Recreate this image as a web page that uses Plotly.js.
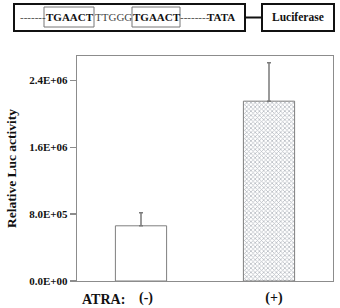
<!DOCTYPE html>
<html>
<head>
<meta charset="utf-8">
<script src="https://cdn.plot.ly/plotly-3.0.1.min.js"></script>
<style>
  html, body { margin: 0; padding: 0; background: #fff; }
  #chart { width: 340px; height: 308px; }
</style>
</head>
<body>
<div id="chart"></div>
<script>
// Luciferase reporter activity with and without ATRA
const conditions = ['(-)', '(+)'];
const lucActivity = [660000, 2150000];
const lucError = [155000, 460000];
const yTickVals = [0, 800000, 1600000, 2400000];
const yTickText = ['0.0E+00', '8.0E+05', '1.6E+06', '2.4E+06'];

// plot area geometry in pixels, used to place the construct diagram
const W = 340, H = 308, L = 77, R = 7, T = 56, B = 27;
const pw = W - L - R, ph = H - T - B;
const px = x => (x - L) / pw;
const py = y => (H - B - y) / ph;

const serif = 'Liberation Serif';
const axisGray = '#8c8c8c';

const trace = {
  type: 'bar',
  x: [0, 1],
  y: lucActivity,
  width: 0.4,
  marker: {
    color: ['#ffffff', '#b8bcc3'],
    line: { color: '#7f7f7f', width: 1 },
    pattern: {
      shape: ['', 'x'],
      size: 3,
      solidity: 0.45,
      fgcolor: '#969aa2',
      bgcolor: ['#ffffff', '#c6c9ce'],
      fillmode: 'replace'
    }
  },
  error_y: {
    type: 'data',
    array: lucError,
    symmetric: false,
    arrayminus: [0, 0],
    color: '#7a7a7a',
    thickness: 1.5,
    width: 2
  },
  hoverinfo: 'skip'
};

// construct diagram: promoter box, connector and luciferase box
const shapes = [
  { type: 'rect', xref: 'paper', yref: 'paper', x0: px(14), x1: px(245), y0: py(31), y1: py(4),
    line: { color: '#111', width: 2 } },
  { type: 'rect', xref: 'paper', yref: 'paper', x0: px(262), x1: px(334), y0: py(31), y1: py(4),
    line: { color: '#111', width: 2 } },
  { type: 'line', xref: 'paper', yref: 'paper', x0: px(245), x1: px(262), y0: py(17.5), y1: py(17.5),
    line: { color: '#111', width: 2 } },
  { type: 'rect', xref: 'paper', yref: 'paper', x0: px(44), x1: px(94), y0: py(27), y1: py(7),
    line: { color: '#777', width: 1 } },
  { type: 'rect', xref: 'paper', yref: 'paper', x0: px(132), x1: px(180), y0: py(27), y1: py(7),
    line: { color: '#777', width: 1 } }
];

const seqPieces = [
  { text: '-------', x: 20, bold: false },
  { text: 'TGAACT', x: 45.5, bold: true },
  { text: 'TTGGG', x: 94.5, bold: false },
  { text: 'TGAACT', x: 133, bold: true },
  { text: '--------', x: 180, bold: false },
  { text: 'TATA', x: 207, bold: true }
];

const annotations = seqPieces.map(p => ({
  xref: 'paper', yref: 'paper', x: px(p.x), y: py(17.5),
  xanchor: 'left', yanchor: 'middle', showarrow: false,
  text: p.text, borderpad: 0, borderwidth: 0,
  font: { family: serif, size: 11, color: p.bold ? '#111' : '#444', weight: p.bold ? 'bold' : 'normal' }
}));

annotations.push({
  xref: 'paper', yref: 'paper', x: px(298), y: py(17.5),
  xanchor: 'center', yanchor: 'middle', showarrow: false,
  text: 'Luciferase', borderpad: 0, borderwidth: 0,
  font: { family: serif, size: 11.5, color: '#111', weight: 'bold' }
});

annotations.push({
  xref: 'paper', yref: 'paper', x: px(82), y: py(299),
  xanchor: 'left', yanchor: 'middle', showarrow: false,
  text: 'ATRA:', borderpad: 0, borderwidth: 0,
  font: { family: serif, size: 14, color: '#111', weight: 'bold' }
});

const layout = {
  width: W, height: H,
  margin: { l: L, r: R, t: T, b: B, pad: 0 },
  paper_bgcolor: '#fff', plot_bgcolor: '#fff',
  showlegend: false,
  bargap: 0,
  xaxis: {
    range: [-0.5, 1.5],
    tickvals: [0, 1],
    ticktext: conditions,
    ticks: '',
    ticklabelshift: 5,
    ticklabelstandoff: 3,
    showline: true, mirror: true, linecolor: axisGray, linewidth: 1.3,
    showgrid: false, zeroline: false, fixedrange: true,
    tickfont: { family: serif, size: 14, color: '#111', weight: 'bold' }
  },
  yaxis: {
    range: [0, 2690000],
    tickvals: yTickVals,
    ticktext: yTickText,
    ticks: 'outside', ticklen: 6, tickwidth: 1.2, tickcolor: axisGray,
    showline: true, mirror: true, linecolor: axisGray, linewidth: 1.3,
    showgrid: false, zeroline: false, fixedrange: true,
    tickfont: { family: serif, size: 11, color: '#111', weight: 'bold' },
    title: {
      text: 'Relative Luc activity',
      standoff: 9,
      font: { family: serif, size: 13.5, color: '#111', weight: 'bold' }
    }
  },
  shapes: shapes,
  annotations: annotations
};

Plotly.newPlot('chart', [trace], layout, { staticPlot: true, displayModeBar: false });
</script>
</body>
</html>
